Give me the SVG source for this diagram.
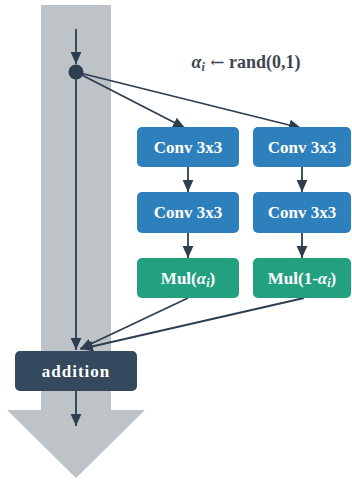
<svg xmlns="http://www.w3.org/2000/svg" width="352" height="480" viewBox="0 0 352 480">
<defs>
<style>
.ln{stroke:#2c3e50;stroke-width:1.8;fill:none}
.blue{fill:#2e80bd}
.green{fill:#22a080}
.dark{fill:#34495e}
.t{font-family:"Liberation Serif","Times New Roman",serif;font-weight:bold;font-size:17px;fill:#ffffff;text-anchor:middle}
.lbl{font-family:"Liberation Serif","Times New Roman",serif;font-weight:bold;font-size:18px;fill:#404650;text-anchor:middle}
</style>
<marker id="ah2" viewBox="0 0 10 10" refX="10" refY="5" markerWidth="12" markerHeight="12" markerUnits="userSpaceOnUse" orient="auto">
<path d="M0,0.5 L10,5 L0,9.5 z" fill="#2c3e50"/>
</marker>
</defs>
<g id="bigarrow">
<path d="M41,5 L111,5 L111,410 L145,410 L76,478 L7,410 L41,410 Z" fill="#bec3c7"/>
</g>
<g id="label">
<text class="lbl" x="246" y="68"><tspan font-style="italic">α</tspan><tspan font-style="italic" font-size="12" dy="3">i</tspan><tspan dy="-3" font-family="'DejaVu Serif',serif" font-weight="normal" font-size="17"> ←</tspan><tspan> rand(0,1)</tspan></text>
</g>
<g id="connectors">
<line class="ln" x1="76" y1="29" x2="76" y2="64" marker-end="url(#ah2)"/>
<line class="ln" x1="76" y1="72" x2="76" y2="350" marker-end="url(#ah2)"/>
<line class="ln" x1="76" y1="72" x2="185" y2="128" marker-end="url(#ah2)"/>
<line class="ln" x1="76" y1="72" x2="301" y2="128" marker-end="url(#ah2)"/>
<line class="ln" x1="188" y1="167" x2="188" y2="192" marker-end="url(#ah2)"/>
<line class="ln" x1="302" y1="167" x2="302" y2="192" marker-end="url(#ah2)"/>
<line class="ln" x1="188" y1="233" x2="188" y2="258" marker-end="url(#ah2)"/>
<line class="ln" x1="302" y1="233" x2="302" y2="258" marker-end="url(#ah2)"/>
<line class="ln" x1="188" y1="298" x2="80" y2="349" marker-end="url(#ah2)"/>
<line class="ln" x1="304" y1="298" x2="81" y2="349" marker-end="url(#ah2)"/>
<line class="ln" x1="76" y1="391" x2="76" y2="426" marker-end="url(#ah2)"/>
</g>
<g id="split">
<circle cx="76" cy="72" r="7.5" fill="#2c3e50"/>
</g>
<g id="conv1a"><rect class="blue" x="137" y="127" width="102" height="40" rx="5"/><text class="t" x="188" y="153">Conv 3x3</text></g>
<g id="conv1b"><rect class="blue" x="253" y="127" width="98" height="40" rx="5"/><text class="t" x="302" y="153">Conv 3x3</text></g>
<g id="conv2a"><rect class="blue" x="137" y="192" width="102" height="41" rx="5"/><text class="t" x="188" y="218">Conv 3x3</text></g>
<g id="conv2b"><rect class="blue" x="253" y="192" width="98" height="41" rx="5"/><text class="t" x="302" y="218">Conv 3x3</text></g>
<g id="mula"><rect class="green" x="137" y="258" width="102" height="40" rx="5"/><text class="t" x="188" y="284">Mul(<tspan font-style="italic">α</tspan><tspan font-style="italic" font-size="12" dy="3">i</tspan><tspan dy="-3">)</tspan></text></g>
<g id="mulb"><rect class="green" x="253" y="258" width="98" height="40" rx="5"/><text class="t" x="302" y="284">Mul(1-<tspan font-style="italic">α</tspan><tspan font-style="italic" font-size="12" dy="3">i</tspan><tspan dy="-3">)</tspan></text></g>
<g id="addition"><rect class="dark" x="15" y="351" width="122" height="40" rx="5"/><text class="t" x="76" y="377" letter-spacing="1">addition</text></g>
</svg>
